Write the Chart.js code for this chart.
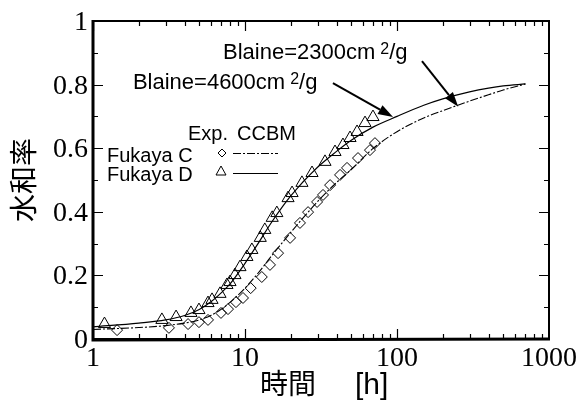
<!DOCTYPE html>
<html><head><meta charset="utf-8">
<script src="https://cdn.jsdelivr.net/npm/chart.js@4"></script>
<style>html,body{margin:0;padding:0;background:#fff}</style>
</head><body>
<canvas id="c" width="582" height="402" style="width:582px;height:402px;display:block"></canvas>
<script>
// ---- data ----
const xTickLabels = [1, 10, 100, 1000];
const yTickLabels = [0, 0.2, 0.4, 0.6, 0.8, 1];

// CCBM model curves
const modelTimes = [1, 2, 3, 4, 5, 6, 7, 8, 10, 12, 15, 20, 30, 40, 50, 70, 100, 150, 200, 300, 400, 500, 700];
const modelC = [0.030, 0.036, 0.042, 0.050, 0.060, 0.075, 0.094, 0.116, 0.160, 0.203, 0.262, 0.335, 0.432, 0.492, 0.533, 0.600, 0.652, 0.695, 0.718, 0.748, 0.768, 0.783, 0.802];
const modelD = [0.038, 0.050, 0.060, 0.074, 0.093, 0.118, 0.146, 0.174, 0.238, 0.295, 0.368, 0.450, 0.540, 0.590, 0.625, 0.667, 0.700, 0.735, 0.755, 0.777, 0.789, 0.796, 0.802];

// Experimental points
const expCTimes = [1.44, 3.16, 4.22, 4.98, 5.71, 6.95, 7.73, 8.72, 9.70, 10.9, 12.9, 14.6, 16.5, 19.8, 23.0, 26.0, 29.8, 32.6, 36.3, 42.2, 46.9, 55.4, 66.4, 71.6];
const expCValues = [0.028, 0.035, 0.047, 0.053, 0.060, 0.082, 0.094, 0.116, 0.129, 0.160, 0.195, 0.233, 0.270, 0.318, 0.365, 0.399, 0.431, 0.453, 0.484, 0.516, 0.538, 0.569, 0.594, 0.616];
const expDTimes = [1.19, 2.84, 3.52, 4.41, 4.98, 5.71, 6.07, 6.85, 7.61, 7.97, 8.59, 9.27, 10.3, 11.1, 12.6, 13.5, 15.1, 16.2, 19.2, 20.4, 23.7, 27.6, 33.6, 39.1, 44.1, 49.1, 54.6, 61.6, 69.5];
const expDValues = [0.047, 0.060, 0.069, 0.082, 0.091, 0.113, 0.123, 0.142, 0.170, 0.179, 0.201, 0.226, 0.258, 0.280, 0.318, 0.343, 0.381, 0.396, 0.443, 0.459, 0.491, 0.522, 0.557, 0.588, 0.610, 0.632, 0.651, 0.679, 0.698];

// annotation anchors (data space)
const arrow4600 = {from: [37.9, 0.805], to: [94.2, 0.698]};
const arrow2300 = {from: [146, 0.874], to: [253, 0.730]};
const label2300 = {at: [7.17, 0.881], base: 'Blaine=2300cm', sup: '2', tail: '/g'};
const label4600 = {at: [1.83, 0.786], base: 'Blaine=4600cm', sup: '2', tail: '/g'};

const toXY = (xs, ys) => xs.map((x, i) => ({x: x, y: ys[i]}));

const SERIF = '"Liberation Serif", "Times New Roman", serif';
const SANS = '"Liberation Sans", Arial, sans-serif';
const CJK = '"Noto Sans CJK JP", sans-serif';

const decor = {
  id: 'decor',
  afterDraw(chart) {
    const ctx = chart.ctx;
    const xs = chart.scales.x, ys = chart.scales.y;
    const {left, right, top, bottom} = chart.chartArea;
    ctx.save();
    ctx.strokeStyle = '#000';
    ctx.fillStyle = '#000';
    // ticks (inward, mirrored)
    ctx.lineWidth = 1.2;
    ctx.beginPath();
    for (let d = 1; d < 1000; d *= 10) {
      for (let k = 1; k <= 9; k++) {
        const px = Math.round(xs.getPixelForValue(d * k)) + 0.5;
        const len = k === 1 ? 10 : 5;
        ctx.moveTo(px, bottom); ctx.lineTo(px, bottom - len);
        ctx.moveTo(px, top); ctx.lineTo(px, top + len);
      }
    }
    for (let i = 1; i <= 9; i++) {
      const py = Math.round(ys.getPixelForValue(i / 10)) + 0.5;
      const len = i % 2 === 0 ? 10 : 5;
      ctx.moveTo(left, py); ctx.lineTo(left + len, py);
      ctx.moveTo(right, py); ctx.lineTo(right - len, py);
    }
    ctx.stroke();
    // frame
    ctx.lineWidth = 2;
    ctx.strokeRect(left, top, right - left, bottom - top);
    ctx.lineWidth = 3;
    ctx.beginPath();
    ctx.moveTo(left, top - 1); ctx.lineTo(left, bottom + 1); ctx.lineTo(right + 1, bottom);
    ctx.stroke();

    // tick labels
    ctx.font = '28px ' + SERIF;
    ctx.textBaseline = 'alphabetic';
    ctx.textAlign = 'center';
    xTickLabels.forEach(v => ctx.fillText(String(v), xs.getPixelForValue(v), 366));
    ctx.textAlign = 'right';
    yTickLabels.forEach(v => ctx.fillText(String(v), left - 5, ys.getPixelForValue(v) + 9));

    // axis titles
    ctx.textAlign = 'left';
    ctx.font = '28px ' + CJK;
    ctx.fillText('時間', 260, 394);
    ctx.font = '30px ' + SANS;
    ctx.fillText('[h]', 355, 394);
    ctx.save();
    ctx.translate(23, 180);
    ctx.rotate(-Math.PI / 2);
    ctx.font = '28px ' + CJK;
    ctx.textAlign = 'center';
    ctx.textBaseline = 'middle';
    ctx.fillText('水和率', 0, 0);
    ctx.restore();

    // Blaine labels
    const drawLabel = (lab) => {
      const x0 = xs.getPixelForValue(lab.at[0]);
      const y0 = ys.getPixelForValue(lab.at[1]);
      ctx.textAlign = 'left';
      ctx.textBaseline = 'alphabetic';
      ctx.font = '22px ' + SANS;
      ctx.fillText(lab.base, x0, y0);
      const w = ctx.measureText(lab.base).width;
      ctx.font = '16px ' + SANS;
      ctx.fillText(lab.sup, x0 + w + 5, y0 - 5);
      const w2 = ctx.measureText(lab.sup).width;
      ctx.font = '22px ' + SANS;
      ctx.fillText(lab.tail, x0 + w + 5 + w2, y0);
    };
    drawLabel(label2300);
    drawLabel(label4600);

    // arrows
    const drawArrow = (a) => {
      const x1 = xs.getPixelForValue(a.from[0]), y1 = ys.getPixelForValue(a.from[1]);
      const x2 = xs.getPixelForValue(a.to[0]), y2 = ys.getPixelForValue(a.to[1]);
      const ang = Math.atan2(y2 - y1, x2 - x1);
      const L = 15, W = 5;
      const bx = x2 - L * Math.cos(ang), by = y2 - L * Math.sin(ang);
      ctx.lineWidth = 2;
      ctx.beginPath(); ctx.moveTo(x1, y1); ctx.lineTo(bx, by); ctx.stroke();
      ctx.beginPath();
      ctx.moveTo(x2, y2);
      ctx.lineTo(bx + W * Math.sin(ang), by - W * Math.cos(ang));
      ctx.lineTo(bx - W * Math.sin(ang), by + W * Math.cos(ang));
      ctx.closePath(); ctx.fill();
    };
    drawArrow(arrow4600);
    drawArrow(arrow2300);

    // legend
    ctx.font = '20px ' + SANS;
    ctx.textAlign = 'left';
    ctx.textBaseline = 'alphabetic';
    ctx.fillText('Exp.', 188, 140);
    ctx.fillText('CCBM', 237, 140);
    ctx.fillText('Fukaya C', 107, 162);
    ctx.fillText('Fukaya D', 107, 181);
    ctx.lineWidth = 1;
    ctx.beginPath();
    ctx.moveTo(222, 149); ctx.lineTo(226, 153); ctx.lineTo(222, 157); ctx.lineTo(218, 153); ctx.closePath();
    ctx.stroke();
    ctx.beginPath();
    ctx.moveTo(221, 166); ctx.lineTo(226, 175); ctx.lineTo(216, 175); ctx.closePath();
    ctx.stroke();
    ctx.lineWidth = 1.1;
    ctx.setLineDash([8, 2, 2, 2]);
    ctx.beginPath(); ctx.moveTo(233, 153.5); ctx.lineTo(278, 153.5); ctx.stroke();
    ctx.setLineDash([]);
    ctx.beginPath(); ctx.moveTo(233, 173.5); ctx.lineTo(278, 173.5); ctx.stroke();
    ctx.restore();
  }
};

new Chart(document.getElementById('c'), {
  type: 'scatter',
  data: {
    datasets: [
      {label: 'CCBM C', data: toXY(modelTimes, modelC), showLine: true, pointRadius: 0,
       borderColor: '#000', borderWidth: 1.1, borderDash: [8, 2, 2, 2], cubicInterpolationMode: 'monotone', fill: false},
      {label: 'CCBM D', data: toXY(modelTimes, modelD), showLine: true, pointRadius: 0,
       borderColor: '#000', borderWidth: 1.2, cubicInterpolationMode: 'monotone', fill: false},
      {label: 'Fukaya C', data: toXY(expCTimes, expCValues), showLine: false, pointStyle: 'rectRot',
       pointRadius: 5.5, pointBorderWidth: 1, pointBorderColor: '#000', pointBackgroundColor: 'rgba(0,0,0,0)'},
      {label: 'Fukaya D', data: toXY(expDTimes, expDValues), showLine: false, pointStyle: 'triangle',
       pointRadius: 7, pointBorderWidth: 1, pointBorderColor: '#000', pointBackgroundColor: 'rgba(0,0,0,0)'}
    ]
  },
  options: {
    responsive: false,
    devicePixelRatio: 1,
    animation: false,
    layout: {padding: {left: 0, top: 21, right: 33, bottom: 0}},
    plugins: {legend: {display: false}, tooltip: {enabled: false}},
    scales: {
      x: {
        type: 'logarithmic', min: 1, max: 1000,
        grid: {display: false}, border: {display: false},
        afterBuildTicks: (s) => { s.ticks = xTickLabels.map(v => ({value: v})); },
        afterFit: (s) => { s.height = 63; },
        ticks: {display: false}
      },
      y: {
        type: 'linear', min: 0, max: 1,
        grid: {display: false}, border: {display: false},
        afterBuildTicks: (s) => { s.ticks = yTickLabels.map(v => ({value: v})); },
        afterFit: (s) => { s.width = 93; },
        ticks: {display: false}
      }
    }
  },
  plugins: [decor]
});
</script>
</body></html>
